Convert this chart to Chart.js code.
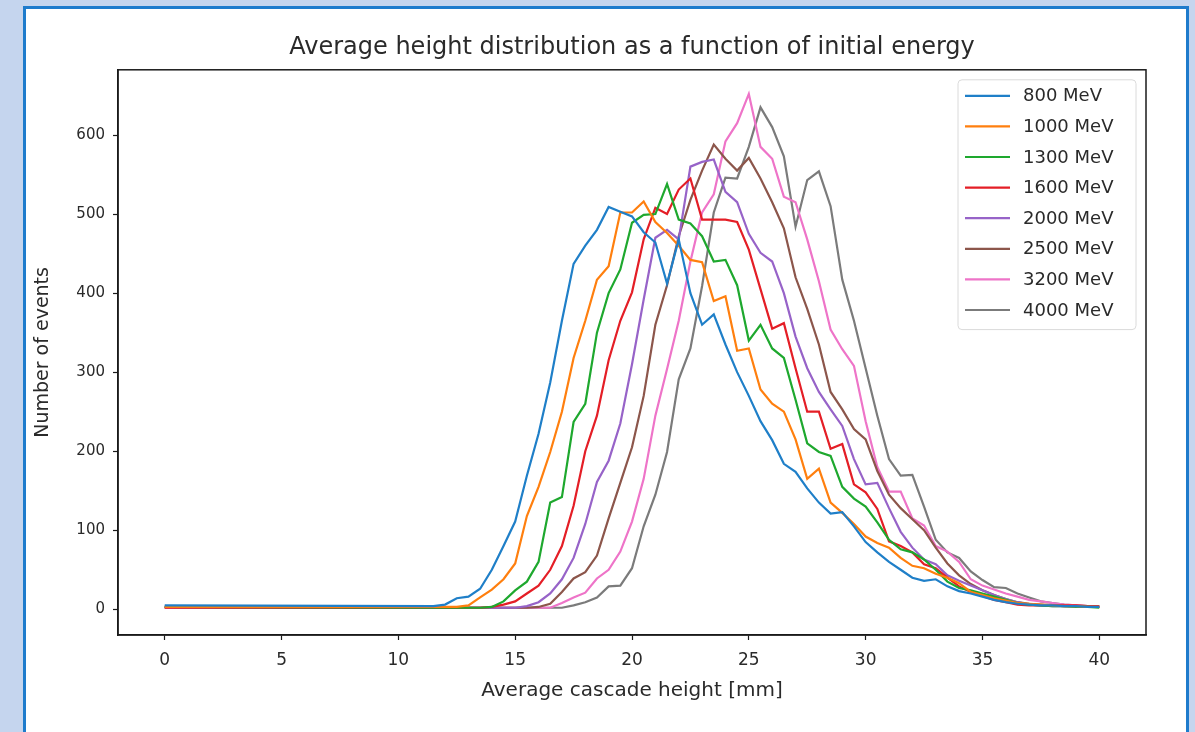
<!DOCTYPE html>
<html>
<head>
<meta charset="utf-8">
<script src="https://cdn.jsdelivr.net/npm/chart.js@4.4.0/dist/chart.umd.min.js"></script>
<style>
  html, body { margin: 0; padding: 0; width: 1195px; height: 732px; overflow: hidden; background: #c5d5ee; }
  #panel { position: absolute; left: 23px; top: 6px; width: 1160px; height: 740px; background: #fff; border: 3px solid #1e7bcc; }
  #wrap { position: absolute; left: 0; top: 0; width: 1195px; height: 732px; }
</style>
</head>
<body>
<div id="panel"></div>
<div id="wrap"><canvas id="chart" width="1195" height="732"></canvas></div>
<script>
// Average height distribution per initial energy
const heights = [0, 11.5, 12, 12.5, 13, 13.5, 14, 14.5, 15, 15.5, 16, 16.5, 17, 17.5, 18, 18.5, 19, 19.5,
  20, 20.5, 21, 21.5, 22, 22.5, 23, 23.5, 24, 24.5, 25, 25.5, 26, 26.5, 27, 27.5, 28, 28.5, 29, 29.5,
  30, 30.5, 31, 31.5, 32, 32.5, 33, 33.5, 34, 34.5, 35, 35.5, 36, 36.5, 37, 37.5, 38, 38.5, 39, 39.5, 40];

const energies = ['800 MeV', '1000 MeV', '1300 MeV', '1600 MeV', '2000 MeV', '2500 MeV', '3200 MeV', '4000 MeV'];
const lineColors = ['#1f7fc8', '#ff7f0e', '#1ea82e', '#e41e26', '#9763c8', '#8c564b', '#ee74c8', '#7b7b7b'];

const counts800 = [5, 4, 6, 14, 16, 26, 50, 80, 111, 169, 222, 287, 365, 437, 460, 480, 509, 503, 497, 477,
  464, 412, 468, 400, 360, 373, 335, 300, 270, 238, 214, 184, 174, 153, 135, 121, 123, 105, 85, 72,
  60, 50, 40, 36, 38, 29, 23, 20, 16, 12, 9, 7, 6, 5, 5, 4, 4, 3, 3];
const counts1000 = [3, 3, 3, 3, 5, 15, 25, 38, 58, 118, 155, 199, 250, 318, 365, 417, 434, 502, 502, 516,
  490, 476, 460, 442, 439, 390, 396, 327, 330, 278, 260, 250, 215, 165, 178, 135, 122, 108, 92, 84,
  78, 65, 55, 52, 45, 40, 33, 22, 18, 14, 11, 8, 7, 6, 5, 4, 4, 3, 3];
const counts1300 = [3, 2, 2, 2, 2, 2, 3, 10, 24, 35, 60, 135, 142, 237, 260, 350, 400, 430, 489, 499,
  500, 538, 493, 488, 472, 440, 442, 410, 340, 360, 330, 318, 265, 210, 199, 194, 155, 140, 130, 110,
  88, 76, 72, 63, 50, 35, 27, 24, 20, 16, 12, 8, 6, 5, 4, 4, 3, 3, 2];
const counts1600 = [2, 2, 2, 2, 2, 2, 3, 6, 10, 20, 30, 50, 80, 131, 200, 245, 315, 365, 401, 468,
  508, 500, 531, 545, 493, 493, 493, 490, 455, 405, 355, 362, 305, 250, 250, 203, 209, 158, 148, 127,
  86, 80, 72, 57, 52, 40, 29, 22, 17, 12, 9, 6, 5, 5, 5, 5, 5, 4, 4];
const counts2000 = [3, 2, 2, 2, 2, 2, 2, 2, 2, 4, 9, 20, 38, 65, 108, 161, 188, 235, 310, 392,
  470, 480, 468, 560, 566, 569, 528, 515, 475, 451, 440, 400, 345, 305, 275, 253, 232, 190, 158, 160,
  128, 98, 78, 63, 57, 43, 36, 30, 24, 18, 13, 9, 6, 5, 4, 4, 4, 3, 3];
const counts2500 = [3, 2, 2, 2, 2, 2, 2, 2, 2, 2, 3, 7, 22, 39, 47, 68, 115, 160, 205, 270,
  360, 410, 472, 518, 555, 588, 570, 555, 571, 545, 515, 482, 420, 380, 335, 275, 253, 228, 215, 175,
  145, 128, 114, 100, 78, 58, 43, 32, 24, 18, 13, 9, 7, 6, 5, 4, 4, 3, 3];
const counts3200 = [2, 2, 2, 2, 2, 2, 2, 2, 2, 2, 2, 2, 8, 15, 21, 39, 50, 73, 111, 165,
  245, 304, 365, 440, 502, 525, 592, 615, 652, 585, 570, 522, 515, 468, 415, 354, 329, 308, 238, 180,
  149, 149, 115, 106, 80, 73, 60, 38, 30, 25, 20, 16, 12, 10, 8, 6, 5, 4, 3];
const counts4000 = [2, 2, 2, 2, 2, 2, 2, 2, 2, 2, 2, 2, 2, 5, 9, 15, 29, 30, 52, 105,
  145, 199, 291, 330, 409, 502, 546, 545, 585, 635, 610, 573, 484, 543, 554, 510, 417, 365, 305, 245,
  190, 169, 170, 130, 88, 72, 65, 48, 37, 28, 27, 20, 15, 10, 8, 6, 5, 4, 3];

const allCounts = [counts800, counts1000, counts1300, counts1600, counts2000, counts2500, counts3200, counts4000];

const xTicks = [0, 5, 10, 15, 20, 25, 30, 35, 40];
const yTicks = [0, 100, 200, 300, 400, 500, 600];

const textColor = '#2a2a2a';
Chart.defaults.font.family = 'DejaVu Sans';

// top/right spines like matplotlib
const framePlugin = {
  id: 'frame',
  afterDatasetsDraw(chart) {
    const { ctx, chartArea: a } = chart;
    ctx.save();
    ctx.strokeStyle = '#1a1a1a';
    ctx.lineWidth = 1.5;
    ctx.strokeRect(a.left, a.top, a.right - a.left, a.bottom - a.top);
    ctx.restore();
  }
};

// legend box in the upper right corner of the axes
const boxLegend = {
  id: 'boxLegend',
  afterDraw(chart) {
    const { ctx, chartArea: a } = chart;
    const w = 178, rowH = 30.6;
    const h = chart.data.datasets.length * rowH + 5;
    const x = a.right - 10 - w, y = a.top + 10;
    ctx.save();
    ctx.fillStyle = 'rgba(255,255,255,0.85)';
    ctx.strokeStyle = '#dadada';
    ctx.lineWidth = 1;
    ctx.beginPath();
    ctx.roundRect(x, y, w, h, 4);
    ctx.fill();
    ctx.stroke();
    ctx.font = '18px "DejaVu Sans"';
    ctx.textBaseline = 'middle';
    chart.data.datasets.forEach((ds, i) => {
      const cy = y + 16 + i * rowH;
      ctx.strokeStyle = ds.borderColor;
      ctx.lineWidth = 2.2;
      ctx.beginPath();
      ctx.moveTo(x + 7, cy);
      ctx.lineTo(x + 52, cy);
      ctx.stroke();
      ctx.fillStyle = textColor;
      ctx.fillText(ds.label, x + 65, cy + 1);
    });
    ctx.restore();
  }
};

const datasets = energies.map((label, i) => ({
  label,
  data: heights.map((h, j) => ({ x: h, y: allCounts[i][j] })),
  borderColor: lineColors[i],
  backgroundColor: lineColors[i],
  borderWidth: 2.2,
  pointRadius: 0,
  tension: 0
}));

new Chart(document.getElementById('chart'), {
  type: 'line',
  data: { datasets },
  options: {
    responsive: false,
    animation: false,
    devicePixelRatio: 1,
    layout: { padding: { left: 0, right: 49, top: 0, bottom: 0 } },
    plugins: {
      legend: { display: false },
      tooltip: { enabled: false },
      title: {
        display: true,
        text: 'Average height distribution as a function of initial energy',
        color: textColor,
        fullSize: false,
        font: { size: 24, weight: 'normal' },
        padding: { top: 33, bottom: 8 }
      }
    },
    scales: {
      x: {
        type: 'linear',
        min: -2,
        max: 42,
        afterBuildTicks: s => { s.ticks = xTicks.map(v => ({ value: v })); },
        afterFit: s => { s.height = 97; },
        ticks: { color: textColor, font: { size: 17 }, padding: 10, maxRotation: 0 },
        grid: { drawOnChartArea: false, tickLength: 5, tickColor: '#1a1a1a', tickWidth: 1.2 },
        border: { color: '#1a1a1a', width: 1.5 },
        title: { display: true, text: 'Average cascade height [mm]', color: textColor, font: { size: 20 }, padding: { top: 0, bottom: 29 } }
      },
      y: {
        min: -32.5,
        max: 682.5,
        afterBuildTicks: s => { s.ticks = yTicks.map(v => ({ value: v })); },
        afterFit: s => { s.width = 118; },
        ticks: { color: textColor, font: { size: 15 }, padding: 8 },
        grid: { drawOnChartArea: false, tickLength: 5, tickColor: '#1a1a1a', tickWidth: 1.2 },
        border: { color: '#1a1a1a', width: 1.5 },
        title: { display: true, text: 'Number of events', color: textColor, font: { size: 19 }, padding: { top: 32, bottom: 0 } }
      }
    }
  },
  plugins: [framePlugin, boxLegend]
});
</script>
</body>
</html>
